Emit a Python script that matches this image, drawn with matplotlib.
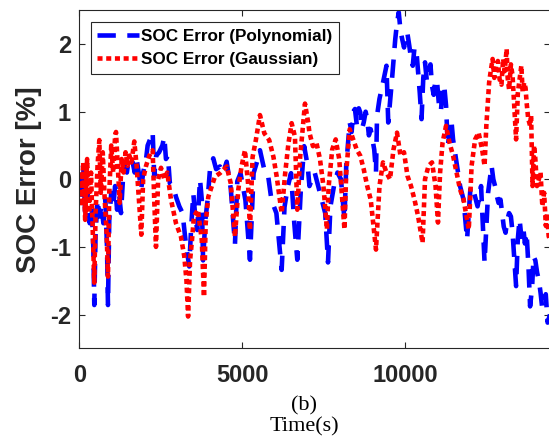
import numpy as np
import matplotlib
matplotlib.use('Agg')
import matplotlib.pyplot as plt

# =====================================================================================================================#
# DATA
# =====================================================================================================================#
t_poly = [0, 50, 120, 180, 250, 320, 380, 430, 460, 500, 560, 620, 680, 740, 800, 850, 880, 920, 980, 1040,
          1100, 1160, 1220, 1280, 1340, 1400, 1460, 1520, 1566, 1640, 1700, 1760, 1840, 1900, 1960, 2050, 2098,
          2180, 2252, 2300, 2360, 2450, 2550, 2610, 2660, 2720, 2780, 2880, 2968, 3070, 3170, 3270, 3375, 3430,
          3500, 3560, 3620, 3705, 3760, 3800, 3870, 3940, 4011, 4113, 4200, 4318, 4420, 4524, 4650, 4779, 4850,
          4950, 5100, 5239, 5350, 5450, 5546, 5680, 5800, 5900, 6050, 6212, 6300, 6400, 6500, 6600, 6692, 6800,
          6903, 7011, 7065, 7226, 7333, 7441, 7549, 7635, 7710, 7818, 7925, 8033, 8140, 8194,
          8301, 8360, 8410, 8462, 8520, 8580, 8624, 8680, 8731, 8790, 8839, 8890, 8946, 9054, 9108, 9140, 9215,
          9323, 9430, 9484, 9591, 9699, 9750, 9807, 9860, 9914, 9970, 10022, 10075, 10129, 10180, 10237, 10290,
          10344, 10452, 10506, 10560, 10613, 10670, 10721, 10780, 10828, 10880, 10936, 10990, 11043, 11100,
          11151, 11200, 11259, 11312, 11420, 11474, 11581, 11689, 11796, 11904, 12011, 12119, 12226, 12334,
          12441, 12549, 12656, 12710, 12764, 12820, 12871, 12930, 12979, 13030, 13086, 13140, 13194, 13250,
          13301, 13409, 13460, 13516, 13570, 13624, 13680, 13731, 13790, 13839, 13900, 13946, 14000, 14054,
          14110, 14161, 14210, 14269, 14320, 14377, 14450]
soc_poly = [0.1, -0.3, 0.2, -0.5, -0.2, -0.65, -0.4, -1.0, -1.86, -0.8, -0.3, -0.55, -0.4, -0.65, -0.3, -1.0,
            -1.86, -0.6, -0.2, -0.4, -0.1, -0.45, -0.2, -0.5, 0.0, 0.2, 0.1, 0.3, 0.24, 0.25, 0.1, 0.3, 0.05,
            -0.15, 0.1, 0.3, 0.5, 0.6, 0.7, 0.05, 0.35, 0.4, 0.5, 0.63, 0.3, 0.35, -0.06, -0.1, -0.26, -0.4,
            -0.5, -0.95, -1.29, -0.75, -0.21, -0.55, -0.75, 0.0, -0.3, -1.2, -0.6, -0.3, 0.14, 0.31, 0.15, 0.19,
            0.1, 0.26, -0.14, -0.96, -0.03, 0.09, -0.31, -1.19, 0.09, 0.25, 0.43, 0.14, 0.04, -0.31, -0.5, -1.34,
            -0.41, -0.11, 0.09, -0.65, -1.19, -0.16, 0.49, 0.2, -0.1, 0.1, -0.1, -0.3, -0.5, -1.23, -0.4, -0.1,
            0.1, 0.0, -0.6, 0.2,
            0.84, 0.7, 1.0, 1.04, 0.8, 1.05, 0.99, 0.75, 0.84, 1.0, 0.89, 0.65, 0.74, 0.44, 0.1, 0.94, 1.19,
            1.43, 1.68, 0.84, 1.43, 2.07, 2.3, 2.47, 2.2, 2.07, 1.95, 2.17, 2.15, 1.98, 1.8, 1.68, 1.95,
            1.93, 1.28, 0.89, 1.5, 1.73, 1.45, 1.58, 1.7, 1.38, 1.25, 1.48, 1.4, 1.09, 1.0,
            1.33, 1.4, 1.09, 0.49, 0.89, 0.59, 0.25, -0.1, -0.3, -0.89, -0.1, -0.2, -0.4, -0.1,
            -1.23, -0.2, 0.2, 0.0, -0.1, -0.25, -0.35, -0.3, -0.5, -0.7, -0.79, -0.6, -0.5, -0.55,
            -0.79, -1.58, -0.9, -0.59, -0.85, -0.69, -0.95, -0.79, -1.3, -1.88, -1.6, -1.14, -1.2, -1.38,
            -1.5, -1.68, -1.9, -1.88, -1.7, -2.12, -2.0]

t_gauss = [0, 60, 120, 180, 240, 300, 360, 420, 460, 500, 560, 614, 660, 720, 780, 840, 880, 920, 980, 1040,
           1100, 1127, 1180, 1240, 1300, 1360, 1420, 1480, 1540, 1600, 1688, 1760, 1830, 1903, 1960, 2050, 2150,
           2252, 2300, 2354, 2420, 2508, 2610, 2700, 2815, 2968, 3121, 3223, 3290, 3340, 3400, 3450, 3520, 3640,
           3760, 3828, 3880, 3960, 4164, 4318, 4524, 4650, 4779, 4880, 4980, 5086, 5180, 5239, 5320, 5420, 5546,
           5680, 5830, 5960, 6060, 6212, 6320, 6420, 6519, 6620, 6692, 6780, 6928, 7030, 7065, 7172, 7280, 7388,
           7495, 7602, 7656, 7764, 7871, 7979, 8140, 8194, 8301, 8409, 8516, 8624, 8731, 8839, 8946, 9108, 9215,
           9323, 9430, 9538, 9645, 9753, 9860, 9968, 10075, 10183, 10290, 10398, 10538, 10613, 10721, 10828,
           10936, 11011, 11076, 11151, 11259, 11366, 11474, 11581, 11689, 11796, 11957, 12043, 12151, 12258,
           12366, 12441, 12495, 12581, 12630, 12688, 12740, 12796, 12850, 12903, 12960, 13011, 13060, 13119,
           13150, 13194, 13250, 13301, 13409, 13463, 13520, 13570, 13610, 13656, 13700, 13731, 13780, 13839,
           13870, 13914, 13960, 14000, 14050, 14108, 14160, 14215, 14270, 14323, 14360, 14409, 14450]
soc_gauss = [0.1, -0.4, 0.25, -0.6, 0.3, -0.5, 0.1, -0.9, -1.53, -0.5, 0.2, 0.58, -0.2, 0.4, -0.3, -0.8, -1.44,
             -0.2, 0.5, 0.1, 0.65, 0.7, 0.2, -0.35, 0.3, 0.1, 0.4, 0.2, 0.35, 0.25, 0.56, 0.2, -0.3, -0.82, 0.0,
             0.2, 0.35, 0.43, -0.3, -1.0, 0.0, 0.17, 0.0, 0.1, -0.3, -0.65, -0.85, -1.14, -1.5, -2.03, -1.2,
             -0.95, -0.55, -0.45, -0.9, -1.74, -0.65, -0.26, 0.04, 0.09, 0.19, -0.06, -0.85, -0.16, 0.19, 0.43,
             -0.06, -0.75, 0.33, 0.58, 0.95, 0.68, 0.58, 0.33, 0.04, -0.5, 0.09, 0.53, 0.83, 0.63, -0.45, 0.33,
             1.12, 0.83, 0.69, 0.49, 0.54, 0.3, -0.1, -0.74, -0.1, 0.44, 0.59, 0.3, -0.74, 0.1, 0.74, 0.59, 0.44,
             0.35, 0.15, -0.1, -0.3, -1.04, -0.1, 0.25, 0.1, 0.0, 0.44, 0.69, 0.35, 0.4, 0.05, -0.1, -0.3, -0.54,
             -0.94, 0.0, 0.2, 0.25, -0.1, -0.64, 0.1, 0.54, 0.79, 0.54, 0.35, 0.1, -0.15, -0.3, -0.74, 0.2, 0.59,
             0.69, 0.44, 0.2, 0.79, 1.43, 1.6, 1.78, 1.5, 1.68, 1.75, 1.48, 1.4, 1.78, 1.6, 1.93,
             1.5, 1.33, 1.7, 1.53, 0.59, 1.28, 1.5, 1.68, 1.3, 1.43, 1.35, 1.14, 0.9, 0.79,
             0.95, -0.1, 0.5, 0.3, -0.1, 0.0, 0.1, -0.4, -0.2, -0.69, -0.5, -0.84, -0.9]

x_ticks = [0, 5000, 10000]
y_ticks = [-2, -1, 0, 1, 2]

assert len(t_poly) == len(soc_poly) and len(t_gauss) == len(soc_gauss)

# =====================================================================================================================#
# PLOT
# =====================================================================================================================#
plt.rcParams['axes.unicode_minus'] = False
txt_color = '#262626'
fig = plt.figure(figsize=(5.49, 4.41), dpi=100)
ax = fig.add_axes([79.3 / 549, (441 - 348.3) / 441, (550 - 79.3) / 549, 338 / 441])

ax.plot(t_poly, soc_poly, color=(0, 0, 1), linewidth=3.3, dashes=(4, 2.5), label='SOC Error (Polynomial)')
ax.plot(t_gauss, soc_gauss, color=(1, 0, 0), linewidth=3.3, dashes=(1.1, 0.8), label='SOC Error (Gaussian)')

ax.set_xlim([0, 14450])
ax.set_ylim([-2.5, 2.5])
ax.set_xticks(x_ticks)
ax.set_yticks(y_ticks)

for side in ['left', 'right', 'top', 'bottom']:
    ax.spines[side].set_color(txt_color)
    ax.spines[side].set_linewidth(0.8)
ax.tick_params(direction='in', length=4, width=0.8, colors=txt_color, top=True, right=True,
               labelsize=17)
ax.tick_params(axis='x', pad=11)
ax.tick_params(axis='y', pad=6)
for lab in ax.get_xticklabels() + ax.get_yticklabels():
    lab.set_fontweight('bold')
    lab.set_family('Liberation Sans')

ax.set_ylabel('SOC Error [%]', fontsize=20, fontweight='bold', family='Liberation Sans', color=txt_color)
ax.yaxis.set_label_coords(-0.08, 0.5)

leg = ax.legend(loc='upper left', bbox_to_anchor=(0.024, 0.9645), borderaxespad=0, fancybox=False,
                framealpha=1, edgecolor=txt_color, handlelength=2.45, handletextpad=0.12, borderpad=0.4,
                labelspacing=0.45, prop={'family': 'Liberation Sans', 'weight': 'bold', 'size': 12.3})
leg.get_frame().set_linewidth(0.8)

fig.text(304 / 549, 35 / 441, '(b)', family='Liberation Serif', fontsize=16, ha='center', va='center')
fig.text(304 / 549, 14.3 / 441, 'Time(s)', family='Liberation Serif', fontsize=16, ha='center', va='center')

plt.savefig('out.png', dpi=100)
